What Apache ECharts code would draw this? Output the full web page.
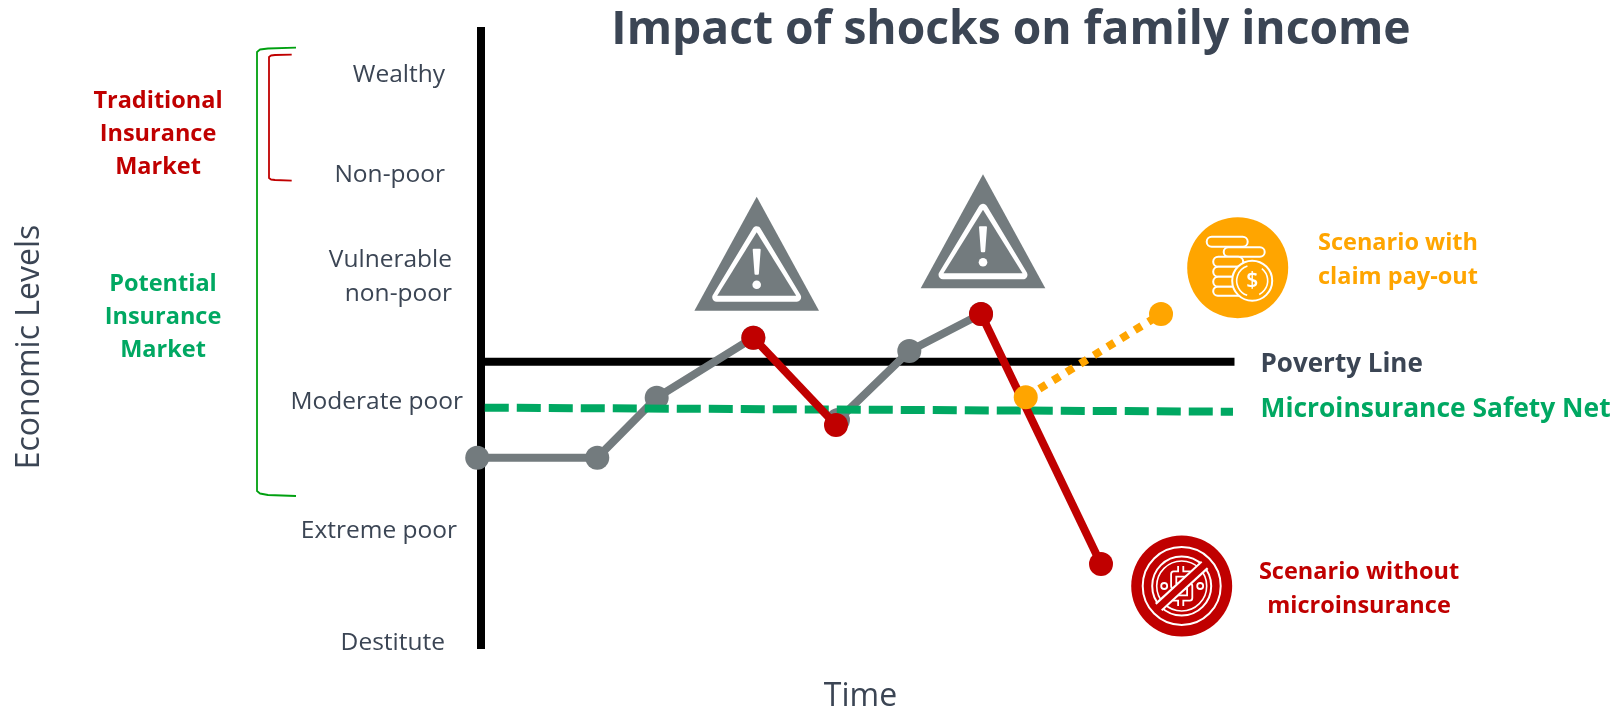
<!DOCTYPE html>
<html>
<head>
<meta charset="utf-8">
<style>html,body{margin:0;padding:0;background:#fff}#chart{width:1620px;height:707px}</style>
<script src="https://cdn.jsdelivr.net/npm/echarts@6/dist/echarts.min.js"></script>
</head>
<body>
<div id="chart"></div>
<script>
// Economic levels on the vertical scale (0 = bottom, 100 = top)
const levelNames = ['Destitute', 'Extreme poor', 'Moderate poor', 'Vulnerable\nnon-poor', 'Non-poor', 'Wealthy'];
const levelValues = [1, 19, 39.65, 59.75, 76.2, 92.25];

// Family income path, as [time, level]
const incomeRiseA = [[-0.5, 30.76], [15.4, 30.76], [23.27, 40.4], [36.07, 50.05]];
const shockDropA = [[36.07, 50.05], [47.02, 36]];
const incomeRiseB = [[47.28, 36.8], [56.73, 47.9], [66.23, 53.86]];
const shockDropB = [[66.23, 53.86], [82.12, 13.67]];
const payoutPath = [[72.15, 40.47], [90.07, 53.86]];

// Reference lines
const povertyLine = [[0, 46.19], [99.8, 46.19]];
const safetyNet = [[0.5, 38.8], [99.6, 38.15]];

const INK = '#3b4554', RED = '#c00000', GREEN = '#00a862', ORANGE = '#ffa500', GREY = '#737b7e';
const FONT = '"Open Sans", sans-serif';

// Right padding of each level label, keyed by rich-text style
const labelPad = {l0: 18, l1: 6, l2: 0, l3: 11, l4: 18, l5: 18};

const chart = echarts.init(document.getElementById('chart'));

function pathSeries(name, data, color, z, opts) {
  return Object.assign({
    name, type: 'line', data, z, clip: false, silent: true, animation: false,
    symbol: 'circle', symbolSize: 24,
    itemStyle: {color},
    lineStyle: {color, width: 8, cap: 'butt'}
  }, opts || {});
}

function refLine(name, data, color, z, type) {
  return {
    name, type: 'line', data, z, symbol: 'none', clip: false, silent: true, animation: false,
    lineStyle: {color, width: 8, type, cap: 'butt'}
  };
}

function text(str, x, y, size, color, align, lineHeight) {
  return {
    type: 'text', x, y, silent: true, z: 20,
    style: {text: str, fill: color, font: 'bold ' + size + 'px ' + FONT,
      lineHeight: lineHeight || 33, align: align || 'center', verticalAlign: 'middle'}
  };
}

// Warning sign: grey triangle, rounded white inset, exclamation mark
function warning(cx, top) {
  return {
    type: 'group', x: cx, y: top, z: 10, silent: true,
    children: [
      {type: 'polygon', shape: {points: [[0, 0], [62.3, 114], [-62.3, 114]]}, style: {fill: GREY}},
      {type: 'polygon', shape: {points: [[0, 34], [40, 100.5], [-40, 100.5]]},
        style: {fill: '#fff', stroke: '#fff', lineWidth: 9, lineJoin: 'round'}, z2: 1},
      {type: 'polygon', shape: {points: [[0, 35.5], [39.5, 99], [-39.5, 99]]}, style: {fill: GREY}, z2: 2},
      {type: 'polygon', shape: {points: [[-3, 53], [3, 53], [1.2, 77], [-1.2, 77]]},
        style: {fill: '#fff', stroke: '#fff', lineWidth: 2, lineJoin: 'round'}, z2: 3},
      {type: 'circle', shape: {cx: 0, cy: 88, r: 4.3}, style: {fill: '#fff'}, z2: 3}
    ]
  };
}

function outlineBar(x, y, w, h) {
  return {type: 'rect', shape: {x, y, width: w, height: h, r: h / 2},
    style: {fill: ORANGE, stroke: '#fff', lineWidth: 2}, z2: 1};
}

// Coin stack badge
function coinBadge(cx, cy) {
  return {
    type: 'group', x: cx, y: cy, z: 10, silent: true,
    children: [
      {type: 'circle', shape: {cx: 0, cy: 0, r: 50.5}, style: {fill: ORANGE}},
      outlineBar(-31, -31, 41, 10),
      outlineBar(-14, -20.5, 41, 9.5),
      outlineBar(-24.5, -11, 30, 10),
      outlineBar(-24.5, -1, 30, 10),
      outlineBar(-24.5, 9, 30, 10),
      outlineBar(-24.5, 19, 30, 9),
      {type: 'circle', shape: {cx: 14.5, cy: 13, r: 20}, style: {fill: ORANGE, stroke: '#fff', lineWidth: 2}, z2: 2},
      {type: 'arc', shape: {cx: 14.5, cy: 13, r: 15.5, startAngle: 1.9, endAngle: 4.4},
        style: {fill: null, stroke: '#fff', lineWidth: 1.6}, z2: 3},
      {type: 'arc', shape: {cx: 14.5, cy: 13, r: 15.5, startAngle: -0.9, endAngle: 1.1},
        style: {fill: null, stroke: '#fff', lineWidth: 1.6}, z2: 3},
      {type: 'text', x: 14.5, y: 13, z2: 3,
        style: {text: '$', fill: '#fff', font: '600 21px ' + FONT, align: 'center', verticalAlign: 'middle'}}
    ]
  };
}

// Crossed-out currency badge
function noMoneyBadge(cx, cy) {
  const ring = (r, w) => ({type: 'circle', shape: {cx: 0, cy: 0, r},
    style: {fill: null, stroke: '#fff', lineWidth: w}, z2: 1});
  const curve = [[9, -12], [-8, -12], [-8, 0], [8, 0], [8, 12], [-9, 12]];
  const doubled = (shape, type) => [
    {type, shape, style: {fill: null, stroke: '#fff', lineWidth: 7, lineJoin: 'round'}, z2: 2},
    {type, shape, style: {fill: null, stroke: RED, lineWidth: 3.4, lineJoin: 'round'}, z2: 3}
  ];
  return {
    type: 'group', x: cx, y: cy, z: 10, silent: true,
    children: [
      {type: 'circle', shape: {cx: 0, cy: 0, r: 50.5}, style: {fill: RED}},
      ring(39, 2), ring(29.5, 2), ring(25, 1.6),
      ...doubled({x1: -1, y1: -20, x2: -1, y2: -12}, 'line'),
      ...doubled({x1: -1, y1: 12, x2: -1, y2: 20}, 'line'),
      ...doubled({points: curve}, 'polyline'),
      {type: 'circle', shape: {cx: -17.5, cy: 0, r: 3}, style: {fill: RED, stroke: '#fff', lineWidth: 1.8}, z2: 4},
      {type: 'circle', shape: {cx: 18.5, cy: 0, r: 3}, style: {fill: RED, stroke: '#fff', lineWidth: 1.8}, z2: 4},
      // diagonal bar cutting through the rings
      {type: 'line', shape: {x1: -23, y1: 21, x2: 23, y2: -21},
        style: {stroke: '#fff', lineWidth: 11}, z2: 5},
      {type: 'line', shape: {x1: -26, y1: 24, x2: 26, y2: -24},
        style: {stroke: RED, lineWidth: 6.5}, z2: 6}
    ]
  };
}

function bracket(points, color) {
  return {type: 'polyline', silent: true, z: 5, shape: {points},
    style: {fill: null, stroke: color, lineWidth: 1.8, lineJoin: 'round'}};
}

chart.setOption({
  animation: false,
  backgroundColor: '#fff',
  grid: {left: 481, top: 27, width: 755, height: 622, containLabel: false, outerBoundsMode: 'none'},
  xAxis: {
    type: 'value', min: 0, max: 100, name: 'Time', nameLocation: 'middle', nameGap: 32,
    nameTextStyle: {color: INK, fontFamily: FONT, fontSize: 32, padding: [0, 0, 0, 4]},
    axisLine: {show: false}, axisTick: {show: false}, axisLabel: {show: false}, splitLine: {show: false}
  },
  yAxis: {
    type: 'value', min: 0, max: 100, name: 'Economic Levels', nameLocation: 'middle', nameGap: 435,
    nameTextStyle: {color: INK, fontFamily: FONT, fontSize: 32, padding: [0, 18, 0, 0]},
    axisLine: {show: true, lineStyle: {color: '#000', width: 8, cap: 'butt'}},
    axisTick: {show: false}, splitLine: {show: false},
    axisLabel: {
      margin: 18, customValues: levelValues, showMinLabel: true, showMaxLabel: true,
      formatter: function (v) {
        const i = levelValues.indexOf(v);
        return levelNames[i].split('\n').map(s => '{l' + i + '|' + s + '}').join('\n');
      },
      rich: Object.fromEntries(Object.entries(labelPad).map(([k, p]) => [k, {
        color: INK, fontFamily: FONT, fontSize: 24.5, lineHeight: 34, padding: [0, p, 0, 0]
      }]))
    }
  },
  series: [
    refLine('Poverty Line', povertyLine, '#000', 2, 'solid'),
    pathSeries('Income', incomeRiseA, GREY, 3),
    pathSeries('Income after first shock', incomeRiseB, GREY, 3),
    refLine('Microinsurance Safety Net', safetyNet, GREEN, 4, [24, 8]),
    pathSeries('First shock', shockDropA, RED, 5),
    pathSeries('Second shock', shockDropB, RED, 5),
    pathSeries('Scenario with claim pay-out', payoutPath, ORANGE, 6, {
      lineStyle: {color: ORANGE, width: 8, type: [8, 8], cap: 'butt'}
    })
  ],
  graphic: {elements: [
    text('Impact of shocks on family income', 1011, 30.5, 46.2, INK),
    text('Traditional\nInsurance\nMarket', 158, 134.5, 23.5, RED),
    text('Potential\nInsurance\nMarket', 163, 317, 23.5, GREEN),
    text('Scenario with\nclaim pay-out', 1398, 260.5, 23.5, ORANGE, 'center', 34),
    text('Poverty Line', 1260.5, 365, 26, INK, 'left'),
    text('Microinsurance Safety Net', 1260.5, 409, 26.4, GREEN, 'left'),
    text('Scenario without\nmicroinsurance', 1359, 589.5, 23.5, RED, 'center', 34),
    bracket([[296, 47.7], [268, 48.5], [260, 49.5], [257, 52], [257, 491], [260, 493.5], [268, 495], [296, 496]], '#00a010'),
    bracket([[291.7, 54.7], [275, 55], [271, 55.5], [269, 57], [269, 178], [271, 179.5], [275, 180], [291.7, 180.7]], '#c00000'),
    warning(756.7, 196.7),
    warning(983, 174.3),
    coinBadge(1237.7, 267.7),
    noMoneyBadge(1181.7, 586)
  ]}
});
</script>
</body>
</html>
